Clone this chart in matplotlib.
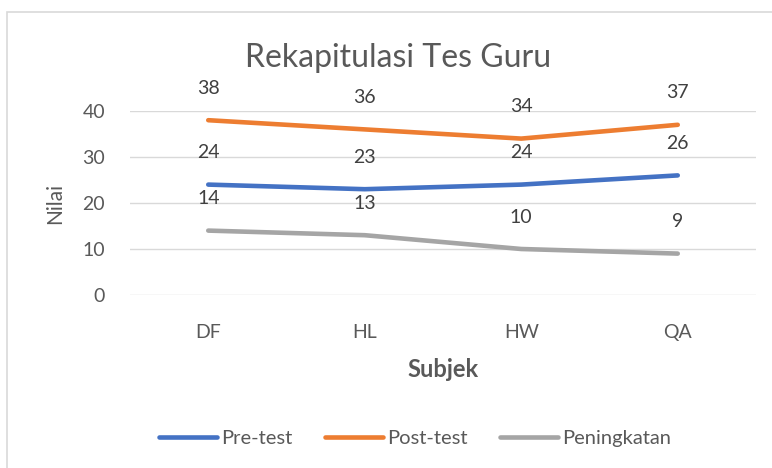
import matplotlib.pyplot as plt
from matplotlib.patches import Rectangle

# data
subjects = ['DF', 'HL', 'HW', 'QA']
pre_test = [24, 23, 24, 26]
post_test = [38, 36, 34, 37]
peningkatan = [14, 13, 10, 9]

series = [
    ('Pre-test', pre_test, '#4472C4'),
    ('Post-test', post_test, '#ED7D31'),
    ('Peningkatan', peningkatan, '#A5A5A5'),
]

plt.rcParams['font.family'] = ['Lato', 'DejaVu Sans']
text_col = '#595959'

fig = plt.figure(figsize=(7.72, 4.68), dpi=100)
ax = fig.add_axes([130 / 772, 1 - 295 / 468, 626 / 772, 184 / 468])

# chart border (cropped at right/bottom)
fig.patches.append(Rectangle((7 / 772, -0.2), 1.2, 1 - 12 / 468 + 0.2,
                             transform=fig.transFigure, fill=False,
                             edgecolor='#D9D9D9', lw=1.2))

x = list(range(len(subjects)))
for name, vals, col in series:
    ax.plot(x, vals, color=col, lw=3.3, label=name, solid_capstyle='round',
            clip_on=False, zorder=3)
    for xi, v in zip(x, vals):
        ax.annotate(str(v), (xi, v), xytext=(0, 23), textcoords='offset points',
                    ha='center', va='center', fontsize=14, color='#404040')

ax.set_xlim(-0.5, 3.5)
ax.set_ylim(0, 40)
ax.set_yticks([0, 10, 20, 30, 40])
ax.set_xticks(x)
ax.set_xticklabels(subjects)
ax.grid(axis='y', color='#D9D9D9', lw=1)
ax.set_axisbelow(True)
for s in ax.spines.values():
    s.set_visible(False)
ax.tick_params(length=0, labelsize=14, labelcolor=text_col)
ax.tick_params(axis='x', pad=21)
ax.tick_params(axis='y', pad=18)

ax.set_xlabel('Subjek', fontsize=17, fontweight='bold', color=text_col, labelpad=12)
ax.set_ylabel('Nilai', fontsize=15, color=text_col, labelpad=12)

fig.text(398 / 772, 1 - 58 / 468, 'Rekapitulasi Tes Guru', ha='center', va='center',
         fontsize=23, color=text_col)

ax.legend(loc='center', bbox_to_anchor=(415 / 772, 1 - 438 / 468),
          bbox_transform=fig.transFigure, ncol=3, frameon=False, fontsize=14.5,
          handlelength=2.9, handletextpad=0.2, columnspacing=1.6,
          labelcolor=text_col)

fig.savefig('out.png', dpi=100)
